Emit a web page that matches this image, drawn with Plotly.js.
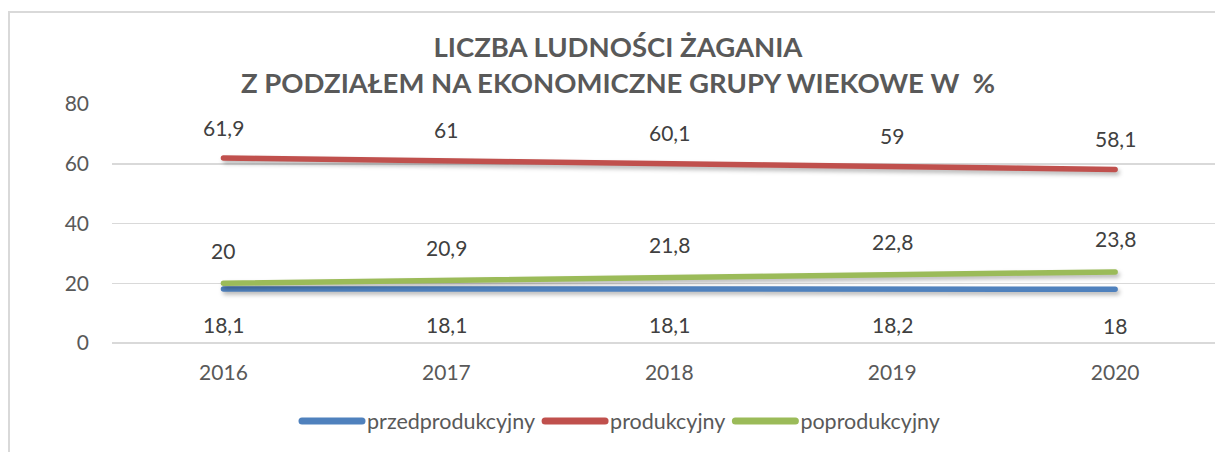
<!DOCTYPE html>
<html>
<head>
<meta charset="utf-8">
<script src="https://cdn.plot.ly/plotly-3.0.1.min.js"></script>
<style>
  html, body { margin:0; padding:0; background:#fff; overflow:hidden; }
  #frame { position:absolute; left:8px; top:11px; width:1400px; height:600px; border:2px solid #d9d9d9; box-sizing:border-box; }
  #chart { position:absolute; left:0; top:0; width:1215px; height:452px; }
  .scatterlayer .js-line { filter: drop-shadow(2px 3px 2px rgba(0,0,0,0.28)); stroke-linecap: round; }
  .legend .legendlines path { stroke-width: 7px !important; stroke-linecap: round; }
</style>
</head>
<body>
<div id="frame"></div>
<div id="chart"></div>
<script>
const years = ['2016', '2017', '2018', '2019', '2020'];
const przedprodukcyjny = [18.1, 18.1, 18.1, 18.2, 18.0];
const produkcyjny = [61.9, 61.0, 60.1, 59.0, 58.1];
const poprodukcyjny = [20.0, 20.9, 21.8, 22.8, 23.8];
const seriesNames = ['przedprodukcyjny', 'produkcyjny', 'poprodukcyjny'];
const yTicks = [0, 20, 40, 60, 80];
const titleText = 'LICZBA LUDNOŚCI ŻAGANIA<br>Z PODZIAŁEM NA EKONOMICZNE GRUPY WIEKOWE W  %';

const colors = ['#4F81BD', '#C0504D', '#9BBB59'];
const seriesData = [przedprodukcyjny, produkcyjny, poprodukcyjny];
const labelShift = [-36, 31, 33];
const FONT = 'Lato, "Open Sans", sans-serif';

const traces = seriesData.map((vals, i) => ({
  type: 'scatter', mode: 'lines', name: seriesNames[i], legendgroup: 'g' + i,
  x: years, y: vals,
  line: { color: colors[i], width: 5.5, shape: 'linear' },
  hoverinfo: 'skip'
}));

const annotations = [];
seriesData.forEach((vals, i) => {
  vals.forEach((v, j) => {
    annotations.push({
      x: j, y: v, xref: 'x', yref: 'y',
      text: String(v).replace('.', ','),
      showarrow: false, yshift: labelShift[i], yanchor: 'middle', xanchor: 'center',
      font: { family: FONT, size: 21, color: '#404040' }
    });
  });
});

const layout = {
  width: 1215, height: 452,
  margin: { l: 111.5, r: 0, t: 104.3, b: 108.7, pad: 0 },
  paper_bgcolor: 'rgba(0,0,0,0)', plot_bgcolor: 'rgba(0,0,0,0)',
  font: { family: FONT, size: 21, color: '#595959' },
  title: {
    text: titleText, xref: 'container', x: 618 / 1215, xanchor: 'center',
    yref: 'container', y: 1 - 57 / 452, yanchor: 'middle',
    font: { family: FONT, size: 27.5, color: '#595959', weight: 'bold' }
  },
  xaxis: {
    type: 'category', range: [-0.5, 4.448], showgrid: false, zeroline: false,
    showline: false, ticks: '', ticklabelstandoff: 15,
    tickfont: { family: FONT, size: 21, color: '#595959' }, fixedrange: true
  },
  yaxis: {
    range: [0, 80], tickvals: yTicks, ticktext: yTicks.map(String),
    showgrid: true, gridcolor: '#d9d9d9', gridwidth: 1.5,
    zeroline: true, zerolinecolor: '#d9d9d9', zerolinewidth: 2,
    showline: false, ticks: '', ticklabelstandoff: 22,
    tickfont: { family: FONT, size: 21, color: '#595959' }, fixedrange: true
  },
  showlegend: true,
  legend: {
    orientation: 'h', xref: 'container', x: 621 / 1215, xanchor: 'center',
    yref: 'container', y: 1 - 421 / 452, yanchor: 'middle',
    font: { family: FONT, size: 21.5, color: '#595959' },
    bgcolor: 'rgba(0,0,0,0)', itemwidth: 60, tracegroupgap: 28
  },
  annotations: annotations
};

Plotly.newPlot('chart', traces, layout, { displayModeBar: false, staticPlot: true });
</script>
</body>
</html>
